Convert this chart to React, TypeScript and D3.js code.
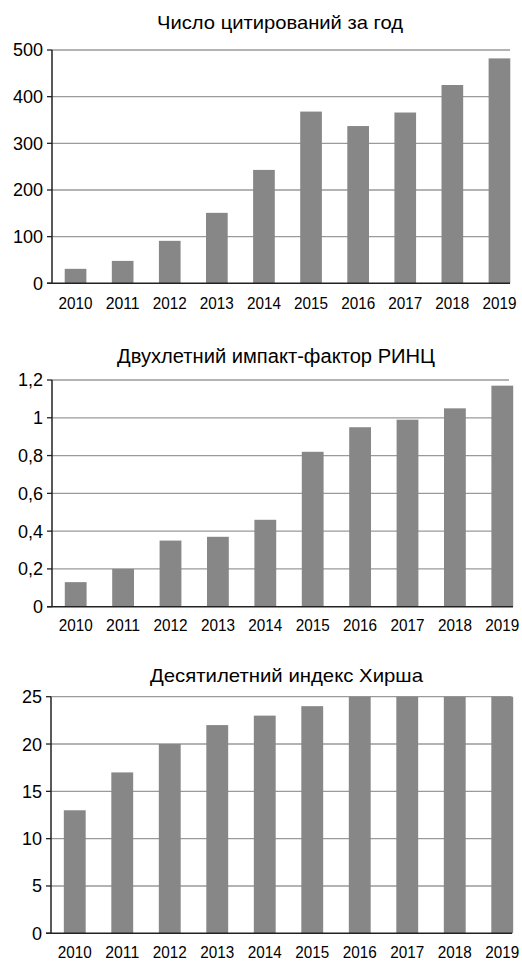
import React, { useEffect, useRef } from 'react'
import * as d3 from 'd3'

const years = ['2010', '2011', '2012', '2013', '2014', '2015', '2016', '2017', '2018', '2019']

const citations = [31, 48, 91, 151, 243, 368, 337, 366, 425, 482]
const citationTicks = [0, 100, 200, 300, 400, 500]
const citationTickLabels = ['0', '100', '200', '300', '400', '500']

const impact = [0.13, 0.2, 0.35, 0.37, 0.46, 0.82, 0.95, 0.99, 1.05, 1.17]
const impactTicks = [0, 0.2, 0.4, 0.6, 0.8, 1, 1.2]
const impactTickLabels = ['0', '0,2', '0,4', '0,6', '0,8', '1', '1,2']

const hirsch = [13, 17, 20, 22, 23, 24, 25, 25, 25, 25]
const hirschTicks = [0, 5, 10, 15, 20, 25]
const hirschTickLabels = ['0', '5', '10', '15', '20', '25']

const titles = [
  'Число цитирований за год',
  'Двухлетний импакт-фактор РИНЦ',
  'Десятилетний индекс Хирша',
]

const W = 522
const H = 961
const FONT = '"Liberation Sans", Arial, sans-serif'

// панели: ось y, низ/верх графика, правый край сетки и диапазон полос
const panels = [
  { values: citations, ticks: citationTicks, labels: citationTickLabels, max: 500,
    axisX: 52, y0: 283.3, yTop: 50, gridEnd: 510, baseEnd: 510, bandEnd: 523,
    titleX: 280, titleY: 29, titleSize: 19, titleLen: 246, yearY: 309 },
  { values: impact, ticks: impactTicks, labels: impactTickLabels, max: 1.2,
    axisX: 52, y0: 606.7, yTop: 380, gridEnd: 509, baseEnd: 513, bandEnd: 526,
    titleX: 276, titleY: 363, titleSize: 20, titleLen: 318, yearY: 631 },
  { values: hirsch, ticks: hirschTicks, labels: hirschTickLabels, max: 25,
    axisX: 51, y0: 933.3, yTop: 696.7, gridEnd: 511.5, baseEnd: 512, bandEnd: 526,
    titleX: 286.5, titleY: 682, titleSize: 19, titleLen: 273, yearY: 958 },
]

function App() {
  const ref = useRef<SVGSVGElement>(null)

  useEffect(() => {
    drawCharts(ref.current as SVGSVGElement)
  }, [])

  return (
    <div style={{ position: 'absolute', left: 0, top: 0 }}>
      <svg ref={ref} width={W} height={H} style={{ display: 'block', background: '#fff' }}></svg>
    </div>
  )
}

function drawCharts(node: SVGSVGElement) {
  const svg = d3.select(node)
  svg.selectAll('*').remove()

  panels.forEach((p, idx) => {
    const g = svg.append('g')

    const x = d3.scaleBand<string>()
      .domain(years)
      .range([p.axisX, p.bandEnd])
      .paddingInner(0.54)
      .paddingOuter(0.27)

    const y = d3.scaleLinear()
      .domain([0, p.max])
      .range([p.y0, p.yTop])

    // заголовок
    g.append('text')
      .attr('x', p.titleX)
      .attr('y', p.titleY)
      .attr('text-anchor', 'middle')
      .attr('font-family', FONT)
      .attr('font-size', p.titleSize)
      .attr('textLength', p.titleLen)
      .attr('lengthAdjust', 'spacingAndGlyphs')
      .attr('fill', '#000')
      .text(titles[idx])

    // сетка
    g.selectAll('line.grid')
      .data(p.ticks.filter(t => t > 0))
      .enter()
      .append('line')
      .attr('class', 'grid')
      .attr('x1', p.axisX)
      .attr('x2', p.gridEnd)
      .attr('y1', d => y(d))
      .attr('y2', d => y(d))
      .attr('stroke', '#9a9a9a')
      .attr('stroke-width', 1.3)

    // столбцы
    g.selectAll('rect')
      .data(p.values)
      .enter()
      .append('rect')
      .attr('x', (d, i) => x(years[i]) as number)
      .attr('y', d => y(d))
      .attr('width', x.bandwidth())
      .attr('height', d => p.y0 - y(d))
      .attr('fill', '#878787')

    // ось y
    g.append('line')
      .attr('x1', p.axisX)
      .attr('x2', p.axisX)
      .attr('y1', p.yTop)
      .attr('y2', p.y0)
      .attr('stroke', '#222')
      .attr('stroke-width', 1.5)

    g.selectAll('line.tick')
      .data(p.ticks)
      .enter()
      .append('line')
      .attr('class', 'tick')
      .attr('x1', p.axisX - 5)
      .attr('x2', p.axisX)
      .attr('y1', d => y(d))
      .attr('y2', d => y(d))
      .attr('stroke', '#222')
      .attr('stroke-width', 1.3)

    g.selectAll('text.ylab')
      .data(p.ticks)
      .enter()
      .append('text')
      .attr('class', 'ylab')
      .attr('x', p.axisX - 9)
      .attr('y', d => y(d))
      .attr('dy', '0.36em')
      .attr('text-anchor', 'end')
      .attr('font-family', FONT)
      .attr('font-size', 18)
      .attr('fill', '#000')
      .text((d, i) => p.labels[i])

    // ось x
    g.append('line')
      .attr('x1', p.axisX - 5)
      .attr('x2', p.baseEnd)
      .attr('y1', p.y0)
      .attr('y2', p.y0)
      .attr('stroke', '#222')
      .attr('stroke-width', 1.5)

    g.selectAll('text.xlab')
      .data(years)
      .enter()
      .append('text')
      .attr('class', 'xlab')
      .attr('x', d => (x(d) as number) + x.bandwidth() / 2)
      .attr('y', p.yearY)
      .attr('text-anchor', 'middle')
      .attr('font-family', FONT)
      .attr('font-size', 17)
      .attr('textLength', 34)
      .attr('lengthAdjust', 'spacingAndGlyphs')
      .attr('fill', '#000')
      .text(d => d)
  })
}

export default App
